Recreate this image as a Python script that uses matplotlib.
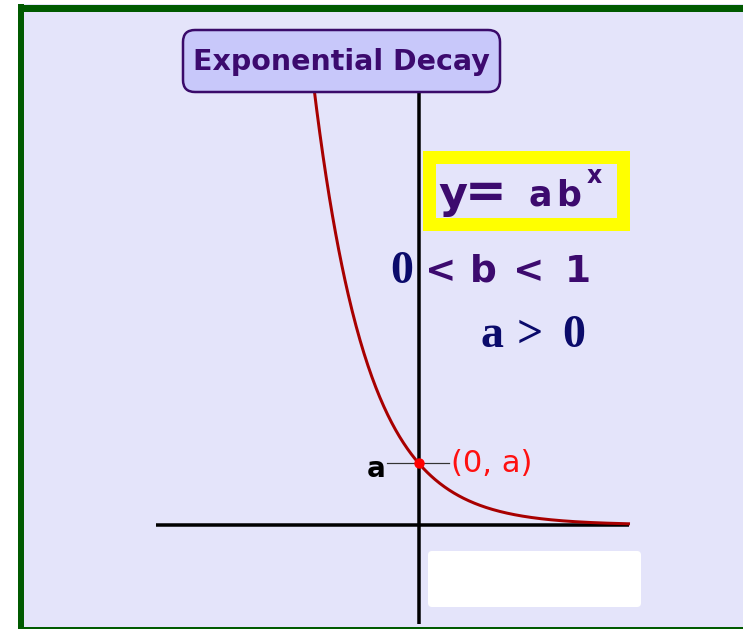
import numpy as np
import matplotlib
matplotlib.use("Agg")
import matplotlib.pyplot as plt
from matplotlib.patches import Rectangle, FancyBboxPatch
from matplotlib.lines import Line2D
from matplotlib.transforms import Affine2D

# ---- data ----
a = 1.0                 # y-intercept
b = 0.375               # decay base (0 < b < 1)
curve_x_range = [-2.0, 4.0]
x_axis_range = [-5.0, 4.0]
y_axis_range = [-1.6, 7.0]
title = "Exponential Decay"

W, H = 743, 629
fig = plt.figure(figsize=(W / 100, H / 100), dpi=100)
fig.patch.set_facecolor("white")
ax = fig.add_axes([0, 0, 1, 1])
ax.axis("off")
# data limits chosen so that the picture's proportions match
ax.set_xlim(-418.5 / 52.5, (W - 418.5) / 52.5)
ax.set_ylim((525 - H) / 62, 525 / 62)

pix = Affine2D().scale(1 / W, -1 / H).translate(0, 1) + fig.transFigure
PT = 0.72  # points per pixel

PURPLE = "#3c0a6e"
NAVY = "#0b0b6b"
GREEN = "#005a00"
LAV = "#e4e4fa"

def add(p):
    ax.add_artist(p)
    p.set_clip_on(False)
    return p

# background
add(Rectangle((18, 4), W, H, transform=pix, facecolor=LAV, edgecolor="none", zorder=0))
# white box bottom right
add(FancyBboxPatch((431, 554), 207, 50, boxstyle="round,pad=3,rounding_size=4",
                   transform=pix, facecolor="white", edgecolor="none", zorder=0.5))

# border
for (x0, y0, x1, y1, lw) in [(21, 4, 21, H, 6), (18, 7.5, W, 7.5, 7), (18, 628, W, 628, 2)]:
    add(Line2D([x0, x1], [y0, y1], transform=pix, color=GREEN,
               lw=lw * PT, solid_capstyle="butt", zorder=10))

# axes lines
ax.plot(x_axis_range, [0, 0], color="black", lw=3.5 * PT, solid_capstyle="butt", zorder=2)
ax.plot([0, 0], y_axis_range, color="black", lw=3.5 * PT, solid_capstyle="butt", zorder=2)

# curve
xs = np.linspace(curve_x_range[0], curve_x_range[1], 400)
ax.plot(xs, a * b ** xs, color="#a80000", lw=3 * PT, zorder=3)

# tick at a
ax.plot([-0.6, 0.58], [a, a], color="#333333", lw=1.2 * PT, zorder=2.5)
ax.plot([0], [a], "o", color="#ff0000", ms=9 * PT, zorder=4)
ax.text(-0.8, a - 14 / 62, "a", fontsize=20, fontweight="bold", color="black",
        ha="center", va="baseline", zorder=5)
ax.text(0.62, a - 9 / 62, "(0, a)", fontsize=22, color="#ff1010",
        ha="left", va="baseline", zorder=5)

# title box
add(FancyBboxPatch((188, 35), 307, 52, boxstyle="round,pad=5,rounding_size=12",
                   transform=pix, facecolor="#c8c8fa", edgecolor="#3a0a6a",
                   lw=2.5 * PT, zorder=6))
ax.text(341, 62, title, transform=pix, fontsize=20.5, fontweight="bold", color=PURPLE,
        ha="center", va="center", zorder=7)

# yellow box
add(Rectangle((428.5, 156.5), 194, 67, transform=pix, facecolor="none",
              edgecolor="#ffff00", lw=13 * PT, joinstyle="miter", zorder=6))

def t(x, y, s, size, color, family="DejaVu Sans", weight="bold"):
    ax.text(x, y, s, transform=pix, fontsize=size, fontweight=weight, color=color,
            family=family, ha="center", va="baseline", zorder=7)

# y = ab^x
t(452.5, 208, "y", 32, PURPLE)
t(486, 207, "=", 36, PURPLE)
t(540, 205, "a", 25, PURPLE)
t(569, 205, "b", 25, PURPLE)
t(594, 183, "x", 17, PURPLE)

# 0 < b < 1
t(401.5, 283, "0", 33, NAVY, family="Liberation Serif")
t(441, 282, "<", 27, PURPLE)
t(483, 282, "b", 27, PURPLE)
t(529, 282, "<", 27, PURPLE)
t(577.5, 282, "1", 27, PURPLE)

# a > 0
t(491.5, 347, "a", 33, NAVY, family="Liberation Serif")
t(530, 347, ">", 33, NAVY, family="Liberation Serif")
t(573.5, 347, "0", 33, NAVY, family="Liberation Serif")

fig.savefig("out.png", dpi=100)
